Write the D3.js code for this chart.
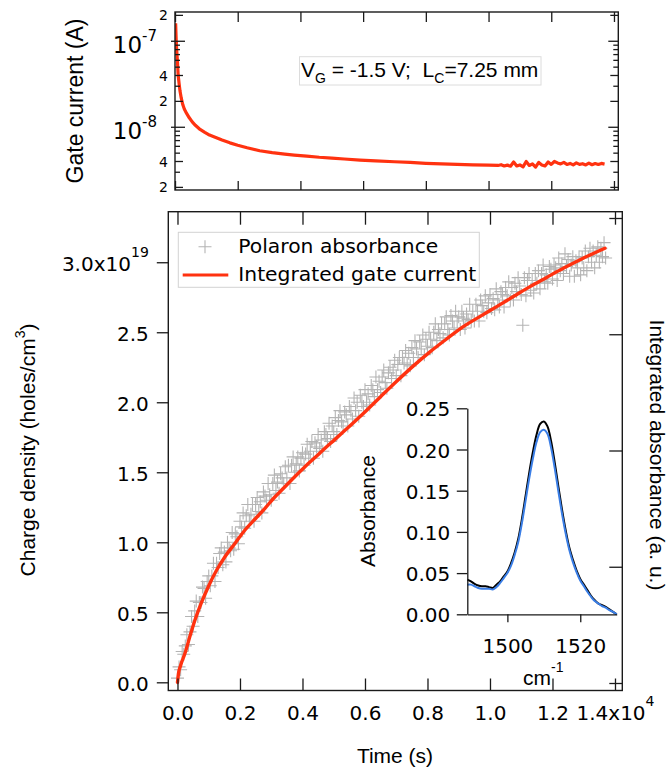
<!DOCTYPE html>
<html><head><meta charset="utf-8">
<script src="https://cdn.jsdelivr.net/npm/d3@7"></script>
<style>
body{margin:0;background:#fff}
svg{display:block}
</style></head><body>
<svg id="c" width="670" height="768"></svg>
<script>
// ---------- DATA ----------
const currentTime = [20,40,60,80,100,130,160,200,250,300,370,450,550,650,800,950,1100,1300,1500,1750,2000,2300,2700,3100,3500,3800,4200,4600,5000,5400,5900,6400,7000,7500,8000,8500,9000,9500,10000,10300,10400,10500,10600,10700,10800,10900,11000,11100,11200,11300,11400,11500,11600,11700,11800,11900,12000,12100,12200,12300,12400,12500,12600,12700,12800,12900,13000,13100,13200,13300,13400,13500,13600,13700];
const currentAmps = [1.6e-7,9.5e-8,7.2e-8,5.6e-8,4.0e-8,3.2e-8,2.6e-8,2.15e-8,1.8e-8,1.6e-8,1.43e-8,1.28e-8,1.14e-8,1.04e-8,9.3e-9,8.6e-9,8.0e-9,7.5e-9,7.0e-9,6.5e-9,6.1e-9,5.7e-9,5.26e-9,5.0e-9,4.8e-9,4.68e-9,4.55e-9,4.42e-9,4.33e-9,4.22e-9,4.1e-9,4.02e-9,3.92e-9,3.85e-9,3.76e-9,3.7e-9,3.65e-9,3.6e-9,3.58e-9,3.55e-9,3.62e-9,3.5e-9,3.58e-9,3.48e-9,3.9e-9,3.5e-9,3.6e-9,3.42e-9,3.95e-9,3.55e-9,3.7e-9,3.4e-9,3.85e-9,3.6e-9,3.5e-9,3.9e-9,3.65e-9,3.95e-9,3.8e-9,3.7e-9,3.85e-9,3.65e-9,3.75e-9,3.6e-9,3.8e-9,3.65e-9,3.72e-9,3.6e-9,3.78e-9,3.62e-9,3.74e-9,3.64e-9,3.75e-9,3.68e-9];

const fitTime = [0,30,100,240,400,560,750,986,1250,1520,1850,2160,2500,2800,3100,3440,3760,4080,4400,4720,5040,5360,5680,5946,6500,7014,7550,8080,8600,9146,9700,10214,10750,11280,11800,12346,12900,13680];
const fitCharge = [0,0.06,0.12,0.207,0.33,0.445,0.56,0.683,0.80,0.897,0.995,1.088,1.17,1.243,1.32,1.397,1.47,1.54,1.605,1.671,1.735,1.80,1.865,1.92,2.04,2.15,2.26,2.36,2.45,2.54,2.615,2.683,2.755,2.826,2.89,2.957,3.02,3.10];

const polaronTime = [0,50,100,150,200,250,300,350,400,450,500,550,600,650,700,750,800,850,900,950,1000,1050,1100,1150,1200,1250,1300,1350,1400,1450,1500,1550,1600,1650,1700,1750,1800,1850,1900,1950,2000,2050,2100,2150,2200,2250,2300,2350,2400,2450,2500,2550,2600,2650,2700,2750,2800,2850,2900,2950,3000,3050,3100,3150,3200,3250,3300,3350,3400,3450,3500,3550,3600,3650,3700,3750,3800,3850,3900,3950,4000,4050,4100,4150,4200,4250,4300,4350,4400,4450,4500,4550,4600,4650,4700,4750,4800,4850,4900,4950,5000,5050,5100,5150,5200,5250,5300,5350,5400,5450,5500,5550,5600,5650,5700,5750,5800,5850,5900,5950,6000,6050,6100,6150,6200,6250,6300,6350,6400,6450,6500,6550,6600,6650,6700,6750,6800,6850,6900,6950,7000,7050,7100,7150,7200,7250,7300,7350,7400,7450,7500,7550,7600,7650,7700,7750,7800,7850,7900,7950,8000,8050,8100,8150,8200,8250,8300,8350,8400,8450,8500,8550,8600,8650,8700,8750,8800,8850,8900,8950,9000,9050,9100,9150,9200,9250,9300,9350,9400,9450,9500,9550,9600,9650,9700,9750,9800,9850,9900,9950,10000,10050,10100,10150,10200,10250,10300,10350,10400,10450,10500,10550,10600,10650,10700,10750,10800,10850,10900,10950,11000,11050,11100,11150,11200,11250,11300,11350,11400,11450,11500,11550,11600,11650,11700,11750,11800,11850,11900,11950,12000,12050,12100,12150,12200,12250,12300,12350,12400,12450,12500,12550,12600,12650,12700,12750,12800,12850,12900,12950,13000,13050,13100,13150,13200,13250,13300,13350,13400,13450,13500,13550,13600,13650,13700];
const polaronCharge = [
0.03,0.11,0.09,0.22,0.20,0.26,0.34,0.27,0.36,0.47,
0.40,0.51,0.58,0.47,0.57,0.57,0.68,0.67,0.60,0.72,
0.76,0.69,0.76,0.85,0.72,0.85,0.82,0.92,0.96,0.84,
0.93,0.86,1.00,0.96,0.94,1.07,0.95,1.06,1.04,0.99,
1.15,1.11,1.21,1.10,1.19,1.27,1.15,1.20,1.27,1.15,
1.27,1.32,1.22,1.29,1.21,1.36,1.33,1.30,1.42,1.34,
1.30,1.42,1.48,1.37,1.43,1.35,1.49,1.46,1.42,1.54,
1.46,1.55,1.42,1.55,1.61,1.50,1.56,1.61,1.51,1.60,
1.64,1.55,1.63,1.70,1.60,1.65,1.72,1.60,1.71,1.68,
1.77,1.67,1.73,1.65,1.79,1.77,1.74,1.85,1.72,1.83,
1.79,1.89,1.77,1.87,1.94,1.86,1.83,1.93,1.91,1.83,
1.97,1.94,1.88,2.03,1.94,2.00,1.90,2.05,2.00,1.97,
2.09,2.00,2.06,1.98,2.12,2.09,2.04,2.18,2.09,2.15,
2.07,2.18,2.23,2.14,2.10,2.21,2.25,2.17,2.23,2.30,
2.19,2.27,2.32,2.19,2.32,2.28,2.37,2.27,2.35,2.26,
2.39,2.32,2.44,2.38,2.32,2.43,2.38,2.48,2.34,2.45,
2.40,2.50,2.45,2.39,2.50,2.56,2.44,2.52,2.49,2.56,
2.46,2.56,2.61,2.52,2.48,2.62,2.58,2.53,2.65,2.58,
2.61,2.52,2.65,2.60,2.53,2.63,2.59,2.70,2.58,2.65,
2.58,2.70,2.65,2.58,2.73,2.69,2.65,2.76,2.64,2.71,
2.77,2.67,2.74,2.66,2.81,2.73,2.68,2.79,2.77,2.68,
2.82,2.76,2.86,2.73,2.82,2.73,2.85,2.79,2.89,2.83,
2.77,2.55,2.89,2.76,2.87,2.92,2.80,2.87,2.78,2.92,
2.85,2.94,2.81,2.92,2.98,2.86,2.91,2.85,2.97,2.95,
2.88,2.98,2.96,2.87,3.03,2.94,2.99,2.92,3.06,2.97,
3.02,2.90,2.98,3.04,2.90,3.01,2.96,3.04,2.91,3.03,
2.96,3.08,2.94,3.04,3.10,3.00,3.08,2.96,3.05,3.11,
3.00,3.10,3.04,3.14,3.03];

const waveNumber = [1489,1490,1491,1492,1493,1494,1495,1496,1497,1498,1499,1500,1501,1502,1503,1504,1505,1506,1507,1508,1509,1510,1511,1512,1513,1514,1515,1516,1517,1518,1519,1520,1521,1522,1523,1524,1525,1526,1527,1528,1529,1530];
const absBlack = [0.042,0.040,0.037,0.035,0.034,0.034,0.033,0.032,0.036,0.040,0.046,0.052,0.062,0.075,0.092,0.116,0.144,0.172,0.197,0.218,0.231,0.234,0.228,0.210,0.184,0.155,0.127,0.102,0.081,0.066,0.053,0.043,0.036,0.029,0.022,0.017,0.013,0.011,0.009,0.006,0.003,0.000];
const absBlue = [0.036,0.036,0.034,0.032,0.031,0.031,0.031,0.030,0.033,0.038,0.044,0.050,0.059,0.072,0.088,0.111,0.138,0.165,0.189,0.209,0.221,0.224,0.219,0.202,0.177,0.149,0.122,0.098,0.078,0.063,0.051,0.041,0.034,0.027,0.021,0.016,0.013,0.010,0.008,0.005,0.003,0.000];

const mainXTicks = [0,2000,4000,6000,8000,10000,12000,14000];
const mainXTickLabels = ["0.0","0.2","0.4","0.6","0.8","1.0","1.2","1.4"];
const mainXExponent = "4";
const mainYTicks = [0,0.5,1.0,1.5,2.0,2.5,3.0];
const mainYTickLabels = ["0.0","0.5","1.0","1.5","2.0","2.5","3.0"];
const mainYExponent = "19";
const rightTicks = [0,1,2,3,4];
const logMajors = [1e-8,1e-7];
const logMajorExp = ["-8","-7"];
const logLabeledMinors = [2e-9,4e-9,2e-8,4e-8,2e-7];
const logLabeledMinorText = ["2","4","2","4","2"];
const logMinors = [3e-9,5e-9,6e-9,7e-9,8e-9,9e-9,3e-8,5e-8,6e-8,7e-8,8e-8,9e-8];
const insetYTicks = [0,0.05,0.10,0.15,0.20,0.25];
const insetYTickLabels = ["0.00","0.05","0.10","0.15","0.20","0.25"];
const insetXTicks = [1500,1520];

// ---------- SETUP ----------
const svg = d3.select("#c");
const TICKFONT = "DejaVu Sans, Lucida Grande, sans-serif";
const LABFONT = "Liberation Sans, Arial, Helvetica, sans-serif";
const RED = "#ff3210";
const GRAY = "#b4b4b4";
const FR = "#1a1a1a";

function styleAxis(g, fontSize, family) {
  g.attr("font-family", family || TICKFONT).attr("font-size", fontSize || 20);
  g.selectAll(".domain").remove();
  g.selectAll(".tick line").attr("stroke", FR).attr("stroke-width", 1.3);
  g.selectAll(".tick text").attr("fill", "#000");
}

// ---------- TOP PANEL ----------
const tp = {l:175, r:618.3, t:12, b:190};
const xTop = d3.scaleLinear().domain([0, 14138]).range([tp.l, tp.r]);
const yTop = d3.scaleLog().domain([1.84e-9, 2.16e-7]).range([tp.b, tp.t]);

const topG = svg.append("g");
topG.append("defs").append("clipPath").attr("id","clipTop")
  .append("rect").attr("x",tp.l).attr("y",tp.t).attr("width",tp.r-tp.l).attr("height",tp.b-tp.t);

const currentLine = d3.line().x((d,i)=>xTop(currentTime[i])).y(d=>yTop(d));
topG.append("path").datum(currentAmps).attr("d", currentLine)
  .attr("fill","none").attr("stroke",RED).attr("stroke-width",3.2).attr("stroke-linejoin","round")
  .attr("clip-path","url(#clipTop)");

// x ticks top panel
topG.append("g").attr("transform",`translate(0,${tp.b})`)
  .call(d3.axisBottom(xTop).tickValues(mainXTicks).tickSize(-9).tickSizeOuter(0).tickFormat(""))
  .call(g=>styleAxis(g));
topG.append("g").attr("transform",`translate(0,${tp.t})`)
  .call(d3.axisTop(xTop).tickValues(mainXTicks).tickSize(-10).tickSizeOuter(0).tickFormat(""))
  .call(g=>styleAxis(g));
// log ticks left and right
[[tp.l, d3.axisLeft, 1],[tp.r, d3.axisRight, -1]].forEach(([xx, ax, s])=>{
  topG.append("g").attr("transform",`translate(${xx},0)`)
    .call(ax(yTop).tickValues(logMinors).tickSize(-5).tickSizeOuter(0).tickFormat(""))
    .call(g=>styleAxis(g));
  topG.append("g").attr("transform",`translate(${xx},0)`)
    .call(ax(yTop).tickValues(logLabeledMinors).tickSize(-8).tickSizeOuter(0).tickFormat(""))
    .call(g=>styleAxis(g));
  topG.append("g").attr("transform",`translate(${xx},0)`)
    .call(ax(yTop).tickValues(logMajors).tickSize(-10).tickSizeOuter(0).tickFormat(""))
    .call(g=>styleAxis(g));
  topG.append("g").attr("transform",`translate(${xx},0)`)
    .call(ax(yTop).tickValues(logMajors).tickSize(s>0?4:0).tickSizeOuter(0).tickFormat(""))
    .call(g=>styleAxis(g));
});
// log labels
topG.append("g").attr("transform",`translate(${tp.l},0)`)
  .call(d3.axisLeft(yTop).tickValues(logLabeledMinors).tickSize(0).tickPadding(7)
        .tickFormat((d,i)=>logLabeledMinorText[i]))
  .call(g=>styleAxis(g,14))
  .call(g=>g.selectAll("text").attr("dy","0.36em"));
const majLab = topG.append("g").attr("transform",`translate(${tp.l},0)`)
  .call(d3.axisLeft(yTop).tickValues(logMajors).tickSize(0).tickPadding(18).tickFormat(""))
  .call(g=>styleAxis(g,23));
majLab.selectAll(".tick text").each(function(d,i){
  const t = d3.select(this).attr("dy", null).attr("y", 12);
  t.append("tspan").text("10");
  t.append("tspan").attr("font-size",15).attr("dy",-12).text(logMajorExp[i]);
});
topG.append("rect").attr("x",tp.l).attr("y",tp.t).attr("width",tp.r-tp.l).attr("height",tp.b-tp.t)
  .attr("fill","none").attr("stroke",FR).attr("stroke-width",1.4);

// annotation box
const ann = topG.append("g");
ann.append("rect").attr("x",299.5).attr("y",56.7).attr("width",241.5).attr("height",28.3)
  .attr("fill","#fff").attr("stroke","#dcdcdc").attr("stroke-width",1);
const at = ann.append("text").attr("x",301).attr("y",77.3).attr("font-family",LABFONT)
  .attr("font-size",21).attr("fill","#000").style("white-space","pre");
at.append("tspan").text("V");
at.append("tspan").attr("font-size",14).attr("dy",6).text("G");
at.append("tspan").attr("dy",-6).text(" = -1.5 V;  L");
at.append("tspan").attr("font-size",14).attr("dy",6).text("C");
at.append("tspan").attr("dy",-6).text("=7.25 mm");

svg.append("text").attr("transform","translate(83.3,101) rotate(-90)")
  .attr("text-anchor","middle").attr("font-family",LABFONT).attr("font-size",23)
  .text("Gate current (A)");

// ---------- MAIN PANEL ----------
const mp = {l:168.3, r:622.3, t:211.7, b:690.5};
const x = d3.scaleLinear().domain([-294, 14234]).range([mp.l, mp.r]);
const y = d3.scaleLinear().domain([-0.0585, 3.361]).range([mp.b, mp.t]);
const yRight = d3.scaleLinear().domain([0, 4]).range([683, 218]);

const mainG = svg.append("g");
mainG.append("defs").append("clipPath").attr("id","clipMain")
  .append("rect").attr("x",mp.l).attr("y",mp.t).attr("width",mp.r-mp.l).attr("height",mp.b-mp.t);

const dataG = mainG.append("g").attr("clip-path","url(#clipMain)");
const h = 6.5;
dataG.append("path")
  .attr("d", polaronCharge.map((q,i)=>{
    const px = x(polaronTime[i]), py = y(q);
    return `M${px-h},${py}h${2*h}M${px},${py-h}v${2*h}`;
  }).join(""))
  .attr("fill","none").attr("stroke",GRAY).attr("stroke-width",1.1);

const fitLine = d3.line().x((d,i)=>x(fitTime[i])).y(d=>y(d)).curve(d3.curveMonotoneX);
dataG.append("path").datum(fitCharge).attr("d",fitLine)
  .attr("fill","none").attr("stroke",RED).attr("stroke-width",3.4).attr("stroke-linecap","round");

// axes
const yAx = mainG.append("g").attr("transform",`translate(${mp.l},0)`)
  .call(d3.axisLeft(y).tickValues(mainYTicks).tickSize(11.5).tickPadding(8)
        .tickFormat((d,i)=>mainYTickLabels[i]))
  .call(g=>styleAxis(g,20));
yAx.selectAll(".tick text").attr("dy","0.4em");
yAx.selectAll(".tick text").filter((d,i)=>i===mainYTicks.length-1).each(function(d,i){
  const t = d3.select(this).text(null);
  t.append("tspan").text(mainYTickLabels[mainYTicks.length-1] + "x10");
  t.append("tspan").attr("font-size",14).attr("dy",-14).text(mainYExponent);
});
const xAx = mainG.append("g").attr("transform",`translate(0,${mp.b})`)
  .call(d3.axisBottom(x).tickValues(mainXTicks).tickSize(-12).tickPadding(15.3)
        .tickFormat((d,i)=>mainXTickLabels[i]))
  .call(g=>styleAxis(g,20));
xAx.selectAll(".tick text").filter((d,i)=>i===mainXTicks.length-1).each(function(){
  const t = d3.select(this).text(null).attr("text-anchor","middle");
  t.append("tspan").text(mainXTickLabels[mainXTicks.length-1] + "x10");
  t.append("tspan").attr("font-size",14).attr("dy",-14).text(mainXExponent);
});
mainG.append("g").attr("transform",`translate(0,${mp.t})`)
  .call(d3.axisTop(x).tickValues(mainXTicks).tickSize(-13).tickSizeOuter(0).tickFormat(""))
  .call(g=>styleAxis(g));
mainG.append("g").attr("transform",`translate(${mp.r},0)`)
  .call(d3.axisRight(yRight).tickValues(rightTicks).tickSize(-13).tickSizeOuter(0).tickFormat(""))
  .call(g=>styleAxis(g));
mainG.append("rect").attr("x",mp.l).attr("y",mp.t).attr("width",mp.r-mp.l).attr("height",mp.b-mp.t)
  .attr("fill","none").attr("stroke",FR).attr("stroke-width",1.4);

// legend
const lg = mainG.append("g");
lg.append("rect").attr("x",178.3).attr("y",232.3).attr("width",301).attr("height",55)
  .attr("fill","#fff").attr("stroke","#d2d2d2").attr("stroke-width",1);
lg.append("path").attr("d",`M${205-h},246.7h${2*h}M205,${246.7-h}v${2*h}`)
  .attr("stroke",GRAY).attr("stroke-width",1.1).attr("fill","none");
lg.append("line").attr("x1",182.7).attr("x2",228.3).attr("y1",275).attr("y2",275)
  .attr("stroke",RED).attr("stroke-width",3);
lg.append("text").attr("x",238.3).attr("y",253.3).attr("font-family",TICKFONT).attr("font-size",20.3)
  .text("Polaron absorbance");
lg.append("text").attr("x",238.3).attr("y",281).attr("font-family",TICKFONT).attr("font-size",20.3)
  .text("Integrated gate current");

// axis titles
svg.append("text").attr("x",395).attr("y",763).attr("text-anchor","middle")
  .attr("font-family",LABFONT).attr("font-size",21).text("Time (s)");
const yl = svg.append("text").attr("transform","translate(35,450) rotate(-90)")
  .attr("text-anchor","middle").attr("font-family",LABFONT).attr("font-size",21);
yl.append("tspan").text("Charge density (holes/cm");
yl.append("tspan").attr("font-size",14).attr("dy",-10).text("3");
yl.append("tspan").attr("dy",10).text(")");
svg.append("text").attr("transform","translate(650,455) rotate(90)")
  .attr("text-anchor","middle").attr("font-family",LABFONT).attr("font-size",21)
  .text("Integrated absorbance (a. u.)");

// ---------- INSET ----------
const ip = {l:467.3, r:616.7, b:614.3};
const xIn = d3.scaleLinear().domain([1489, 1530]).range([ip.l, ip.r]);
const yIn = d3.scaleLinear().domain([0, 0.25]).range([ip.b, 408.3]);
const inG = svg.append("g");
const inLine = d3.line().x((d,i)=>xIn(waveNumber[i])).y(d=>yIn(d)).curve(d3.curveCatmullRom);
inG.append("path").datum(absBlack).attr("d",inLine).attr("fill","none")
  .attr("stroke","#000").attr("stroke-width",2);
inG.append("path").datum(absBlue).attr("d",inLine).attr("fill","none")
  .attr("stroke","#3a7ee6").attr("stroke-width",2);
const inY = inG.append("g").attr("transform",`translate(${ip.l},0)`)
  .call(d3.axisLeft(yIn).tickValues(insetYTicks).tickSize(10.5).tickSizeOuter(0).tickPadding(6.5)
        .tickFormat((d,i)=>insetYTickLabels[i]));
inY.attr("font-family",TICKFONT).attr("font-size",20);
inY.selectAll(".tick line").attr("stroke",FR).attr("stroke-width",1.3);
inY.select(".domain").attr("stroke",FR).attr("stroke-width",1.3);
inY.selectAll(".tick text").attr("dy","0.38em");
const inX = inG.append("g").attr("transform",`translate(0,${ip.b})`)
  .call(d3.axisBottom(xIn).tickValues(insetXTicks).tickSize(8).tickSizeOuter(0).tickPadding(16.5)
        .tickFormat(d3.format("d")));
inX.attr("font-family",TICKFONT).attr("font-size",20);
inX.selectAll(".tick line").attr("stroke",FR).attr("stroke-width",1.3);
inX.select(".domain").attr("stroke",FR).attr("stroke-width",1.3);
inG.append("text").attr("transform","translate(375,511) rotate(-90)").attr("text-anchor","middle")
  .attr("font-family",LABFONT).attr("font-size",21).text("Absorbance");
const cm = inG.append("text").attr("x",523).attr("y",685).attr("font-family",LABFONT).attr("font-size",21);
cm.append("tspan").text("cm");
cm.append("tspan").attr("font-size",14).attr("dy",-13).text("-1");
</script>
</body></html>
